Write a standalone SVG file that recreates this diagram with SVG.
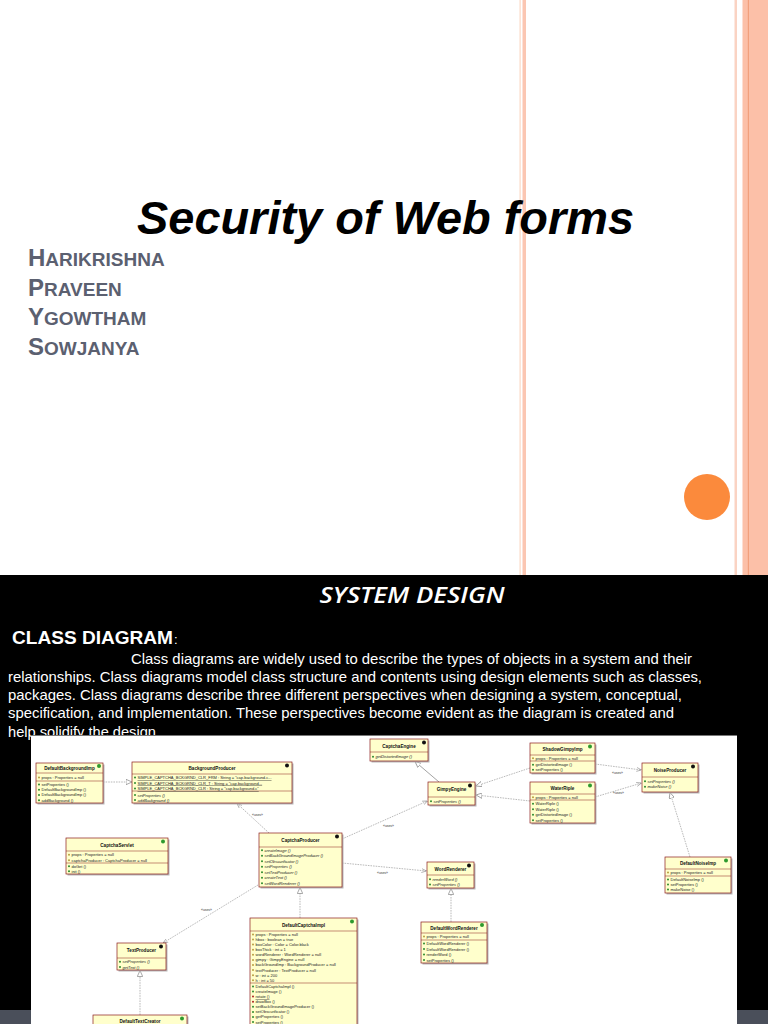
<svg xmlns="http://www.w3.org/2000/svg" width="768" height="1024" viewBox="0 0 768 1024">
<defs>
<style>
.name{font-family:"Liberation Sans",Arial,sans-serif;font-weight:bold;fill:#5B6070}
.big{font-size:24px}
.sm{font-size:19px}
.para{font-family:"Liberation Sans",Arial,sans-serif;font-size:14.5px;fill:#fff}
.b{fill:#FFFFCC;stroke:#8B1A1A;stroke-width:0.7}
.sh{fill:#B8B8B8}
.sep{stroke:#8B1A1A;stroke-width:0.5}
.h{font-family:"Liberation Sans",Arial,sans-serif;font-weight:bold;font-size:4.6px;fill:#111;text-anchor:middle}
.r{font-family:"Liberation Sans",Arial,sans-serif;font-size:4px;fill:#222}
.i{font-style:italic}
.u{text-decoration:underline}
.ib{fill:#111}
.ig{fill:#2E9A2E}
.m{fill:#2E8B2E}
.ma{fill:#B8A040}
.mr{fill:#B02020}
.cn{fill:none;stroke:#8C8C8C;stroke-width:0.6;stroke-dasharray:1.6 1}
.cs{fill:none;stroke:#8C8C8C;stroke-width:0.8}
.lb{font-family:"Liberation Sans",Arial,sans-serif;font-size:3.4px;fill:#333}
</style>
<marker id="tri" viewBox="0 0 10 10" refX="10" refY="5" markerWidth="6" markerHeight="6" markerUnits="userSpaceOnUse" orient="auto"><path d="M0,0.5 L10,5 L0,9.5 z" fill="#fff" stroke="#888" stroke-width="1.2"/></marker>
<marker id="arr" viewBox="0 0 10 10" refX="10" refY="5" markerWidth="5" markerHeight="5" markerUnits="userSpaceOnUse" orient="auto"><path d="M0,1 L10,5 L0,9" fill="none" stroke="#888" stroke-width="1.2"/></marker>
</defs>

<!-- top slide -->
<rect x="0" y="0" width="768" height="575" fill="#fff"/>
<rect x="519.5" y="0" width="1.2" height="575" fill="#FBD9C6"/>
<rect x="522.5" y="0" width="3.5" height="575" fill="#FBC6B2"/>
<rect x="734.5" y="0" width="2.5" height="575" fill="#FAD3C3"/>
<rect x="742.5" y="0" width="25.5" height="575" fill="#FCC0A8"/>
<rect x="747.8" y="0" width="1.2" height="575" fill="#F2A07C"/>
<circle cx="707" cy="497" r="23" fill="#FB8A3C"/>

<text x="137" y="234" font-family="Liberation Sans, Arial, sans-serif" font-weight="bold" font-style="italic" font-size="46" fill="#000" textLength="497" lengthAdjust="spacingAndGlyphs">Security of Web forms</text>
<text class="name" x="28" y="266"><tspan class="big">H</tspan><tspan class="sm">ARIKRISHNA</tspan></text>
<text class="name" x="28" y="296"><tspan class="big">P</tspan><tspan class="sm">RAVEEN</tspan></text>
<text class="name" x="28" y="325"><tspan class="big">Y</tspan><tspan class="sm">GOWTHAM</tspan></text>
<text class="name" x="28" y="355"><tspan class="big">S</tspan><tspan class="sm">OWJANYA</tspan></text>

<!-- bottom slide -->
<rect x="0" y="575" width="768" height="449" fill="#000"/>
<rect x="0" y="1010" width="768" height="14" fill="#4A4F5A"/>
<text x="412" y="603" font-family="Open Sans, Liberation Sans, sans-serif" font-style="italic" font-weight="600" font-size="21" fill="#fff" text-anchor="middle" textLength="185" lengthAdjust="spacingAndGlyphs">SYSTEM DESIGN</text>
<text x="12" y="644" font-family="Liberation Sans, Arial, sans-serif" font-weight="bold" font-size="19" fill="#fff" textLength="161" lengthAdjust="spacingAndGlyphs">CLASS DIAGRAM</text>
<text x="174" y="644" font-family="Liberation Sans, Arial, sans-serif" font-size="13" fill="#fff">:</text>
<text class="para" x="131" y="664" textLength="561" lengthAdjust="spacingAndGlyphs">Class diagrams are widely used to describe the types of objects in a system and their</text>
<text class="para" x="8" y="682" textLength="694" lengthAdjust="spacingAndGlyphs">relationships. Class diagrams model class structure and contents using design elements such as classes,</text>
<text class="para" x="8" y="700" textLength="674" lengthAdjust="spacingAndGlyphs">packages. Class diagrams describe three different perspectives when designing a system, conceptual,</text>
<text class="para" x="8" y="718" textLength="666" lengthAdjust="spacingAndGlyphs">specification, and implementation. These perspectives become evident as the diagram is created and</text>
<text class="para" x="8" y="737" textLength="152" lengthAdjust="spacingAndGlyphs">help solidify the design.</text>

<!-- diagram panel -->
<rect x="31" y="735" width="706" height="289" fill="#fff"/>
<line x1="31" y1="735.5" x2="737" y2="735.5" stroke="#777" stroke-width="1"/>

<g id="connectors">
<line class="cn" x1="103" y1="782" x2="132" y2="782" marker-end="url(#tri)"/>
<line class="cn" x1="269" y1="833" x2="237" y2="803.5" marker-end="url(#arr)"/>
<text class="lb" x="252" y="816">«uses»</text>
<line class="cs" x1="439" y1="782" x2="415" y2="761.5" marker-end="url(#tri)"/>
<line class="cn" x1="530" y1="768" x2="476" y2="786" marker-end="url(#tri)"/>
<line class="cn" x1="530" y1="801" x2="476" y2="795" marker-end="url(#tri)"/>
<line class="cn" x1="595" y1="764" x2="641.5" y2="770" marker-end="url(#arr)"/>
<text class="lb" x="612" y="774">«uses»</text>
<line class="cn" x1="595" y1="797" x2="641.5" y2="783" marker-end="url(#arr)"/>
<text class="lb" x="613" y="794">«uses»</text>
<line class="cn" x1="690" y1="857" x2="670" y2="792.5" marker-end="url(#tri)"/>
<line class="cn" x1="342" y1="839" x2="427.5" y2="801" marker-end="url(#arr)"/>
<text class="lb" x="383" y="827">«uses»</text>
<line class="cn" x1="342" y1="863" x2="426.5" y2="871" marker-end="url(#arr)"/>
<text class="lb" x="377" y="874">«uses»</text>
<line class="cn" x1="300" y1="918" x2="300" y2="887.5" marker-end="url(#tri)"/>
<line class="cn" x1="258" y1="885" x2="163" y2="943" marker-end="url(#arr)"/>
<text class="lb" x="201" y="911">«uses»</text>
<line class="cn" x1="140" y1="1015" x2="140" y2="970.5" marker-end="url(#tri)"/>
<line class="cn" x1="451" y1="922" x2="451" y2="888.5" marker-end="url(#tri)"/>
</g>

<g id="n-captchaengine">
<rect class="sh" x="371.5" y="740.5" width="58" height="22"/>
<rect class="b" x="370" y="739" width="58" height="22"/>
<line class="sep" x1="370" y1="752" x2="428" y2="752"/>
<text class="h" x="399" y="747.5">CaptchaEngine</text>
<circle class="ib" cx="424" cy="742.5" r="2"/>
<circle class="m" cx="373" cy="756.8" r="1"/><text class="r i" x="375.5" y="758.2">getDistortedImage ()</text>
</g>

<g id="n-defaultbackgroundimp">
<rect class="sh" x="37.5" y="764.5" width="67" height="40"/>
<rect class="b" x="36" y="763" width="67" height="40"/>
<line class="sep" x1="36" y1="773" x2="103" y2="773"/>
<line class="sep" x1="36" y1="781" x2="103" y2="781"/>
<text class="h" x="69.5" y="770.3">DefaultBackgroundImp</text>
<circle class="ig" cx="99" cy="766" r="2"/>
<circle class="ma" cx="39" cy="777.6" r="1"/><text class="r" x="41.5" y="779">props : Properties = null</text>
<circle class="m" cx="39" cy="784.6" r="1"/><text class="r" x="41.5" y="786">setProperties ()</text>
<circle class="m" cx="39" cy="789.8" r="1"/><text class="r" x="41.5" y="791.2">DefaultBackgroundImp ()</text>
<circle class="m" cx="39" cy="795" r="1"/><text class="r" x="41.5" y="796.4">DefaultBackgroundImp ()</text>
<circle class="m" cx="39" cy="800.2" r="1"/><text class="r" x="41.5" y="801.6">addBackground ()</text>
</g>

<g id="n-backgroundproducer">
<rect class="sh" x="133.5" y="763.5" width="160" height="41"/>
<rect class="b" x="132" y="762" width="160" height="41"/>
<line class="sep" x1="132" y1="774" x2="292" y2="774"/>
<line class="sep" x1="132" y1="791" x2="292" y2="791"/>
<text class="h" x="212" y="770">BackgroundProducer</text>
<circle class="ib" cx="287" cy="765.5" r="2"/>
<circle class="m" cx="135" cy="777.6" r="1"/><text class="r u" x="137.5" y="779">SIMPLE_CAPTCHA_BCKGRND_CLR_FRM : String = "cap.background.c...</text>
<circle class="m" cx="135" cy="783.1" r="1"/><text class="r u" x="137.5" y="784.5">SIMPLE_CAPTCHA_BCKGRND_CLR_T : String = "cap.background...</text>
<circle class="m" cx="135" cy="788.6" r="1"/><text class="r u" x="137.5" y="790">SIMPLE_CAPTCHA_BCKGRND_CLR : String = "cap.background.c"</text>
<circle class="m" cx="135" cy="795.1" r="1"/><text class="r i" x="137.5" y="796.5">setProperties ()</text>
<circle class="m" cx="135" cy="800.1" r="1"/><text class="r i" x="137.5" y="801.5">addBackground ()</text>
</g>

<g id="n-shadowgimpyimp">
<rect class="sh" x="531.5" y="744.5" width="65" height="30"/>
<rect class="b" x="530" y="743" width="65" height="30"/>
<line class="sep" x1="530" y1="755" x2="595" y2="755"/>
<line class="sep" x1="530" y1="761" x2="595" y2="761"/>
<text class="h" x="562.5" y="751">ShadowGimpyImp</text>
<circle class="ig" cx="590" cy="746.5" r="2"/>
<circle class="ma" cx="533" cy="758.3" r="1"/><text class="r" x="535.5" y="759.7">props : Properties = null</text>
<circle class="m" cx="533" cy="764.8" r="1"/><text class="r" x="535.5" y="766.2">getDistortedImage ()</text>
<circle class="m" cx="533" cy="769.8" r="1"/><text class="r" x="535.5" y="771.2">setProperties ()</text>
</g>

<g id="n-gimpyengine">
<rect class="sh" x="429.5" y="783.5" width="47" height="23"/>
<rect class="b" x="428" y="782" width="47" height="23"/>
<line class="sep" x1="428" y1="797" x2="475" y2="797"/>
<text class="h" x="451.5" y="791">GimpyEngine</text>
<circle class="ib" cx="470" cy="785.5" r="2"/>
<circle class="m" cx="431" cy="801.3" r="1"/><text class="r i" x="433.5" y="802.7">setProperties ()</text>
</g>

<g id="n-waterriple">
<rect class="sh" x="531.5" y="783.5" width="65" height="41"/>
<rect class="b" x="530" y="782" width="65" height="41"/>
<line class="sep" x1="530" y1="794" x2="595" y2="794"/>
<line class="sep" x1="530" y1="800" x2="595" y2="800"/>
<text class="h" x="562.5" y="790">WaterRiple</text>
<circle class="ig" cx="590" cy="785.5" r="2"/>
<circle class="ma" cx="533" cy="797.3" r="1"/><text class="r" x="535.5" y="798.7">props : Properties = null</text>
<circle class="m" cx="533" cy="803.8" r="1"/><text class="r" x="535.5" y="805.2">WaterRiple ()</text>
<circle class="m" cx="533" cy="809.3" r="1"/><text class="r" x="535.5" y="810.7">WaterRiple ()</text>
<circle class="m" cx="533" cy="814.8" r="1"/><text class="r" x="535.5" y="816.2">getDistortedImage ()</text>
<circle class="m" cx="533" cy="820.3" r="1"/><text class="r" x="535.5" y="821.7">setProperties ()</text>
</g>

<g id="n-noiseproducer">
<rect class="sh" x="643.5" y="764.5" width="56" height="29"/>
<rect class="b" x="642" y="763" width="56" height="29"/>
<line class="sep" x1="642" y1="777" x2="698" y2="777"/>
<text class="h" x="670" y="772">NoiseProducer</text>
<circle class="ib" cx="693" cy="766.5" r="2"/>
<circle class="m" cx="645" cy="781.3" r="1"/><text class="r i" x="647.5" y="782.7">setProperties ()</text>
<circle class="m" cx="645" cy="786.8" r="1"/><text class="r i" x="647.5" y="788.2">makeNoise ()</text>
</g>

<g id="n-captchaservlet">
<rect class="sh" x="67.5" y="839.5" width="102" height="36"/>
<rect class="b" x="66" y="838" width="102" height="36"/>
<line class="sep" x1="66" y1="851" x2="168" y2="851"/>
<line class="sep" x1="66" y1="863" x2="168" y2="863"/>
<text class="h" x="117" y="846.5">CaptchaServlet</text>
<circle class="ig" cx="163" cy="841.5" r="2"/>
<circle class="ma" cx="69" cy="854.8" r="1"/><text class="r" x="71.5" y="856.2">props : Properties = null</text>
<circle class="ma" cx="69" cy="860.3" r="1"/><text class="r" x="71.5" y="861.7">captchaProducer : CaptchaProducer = null</text>
<circle class="m" cx="69" cy="866.3" r="1"/><text class="r" x="71.5" y="867.7">doGet ()</text>
<circle class="m" cx="69" cy="871.3" r="1"/><text class="r" x="71.5" y="872.7">init ()</text>
</g>

<g id="n-captchaproducer">
<rect class="sh" x="260.5" y="834.5" width="83" height="54"/>
<rect class="b" x="259" y="833" width="83" height="54"/>
<line class="sep" x1="259" y1="847" x2="342" y2="847"/>
<text class="h" x="300.5" y="842">CaptchaProducer</text>
<circle class="ib" cx="337" cy="836.5" r="2"/>
<circle class="m" cx="262" cy="850.3" r="1"/><text class="r i" x="264.5" y="851.7">createImage ()</text>
<circle class="m" cx="262" cy="855.8" r="1"/><text class="r i" x="264.5" y="857.2">setBackGroundImageProducer ()</text>
<circle class="m" cx="262" cy="861.3" r="1"/><text class="r i" x="264.5" y="862.7">setObscurificator ()</text>
<circle class="m" cx="262" cy="866.8" r="1"/><text class="r i" x="264.5" y="868.2">setProperties ()</text>
<circle class="m" cx="262" cy="872.3" r="1"/><text class="r i" x="264.5" y="873.7">setTextProducer ()</text>
<circle class="m" cx="262" cy="877.8" r="1"/><text class="r i" x="264.5" y="879.2">createText ()</text>
<circle class="m" cx="262" cy="883.3" r="1"/><text class="r i" x="264.5" y="884.7">setWordRenderer ()</text>
</g>

<g id="n-wordrenderer">
<rect class="sh" x="428.5" y="863.5" width="47" height="26"/>
<rect class="b" x="427" y="862" width="47" height="26"/>
<line class="sep" x1="427" y1="875" x2="474" y2="875"/>
<text class="h" x="450.5" y="870.5">WordRenderer</text>
<circle class="ib" cx="469" cy="865.5" r="2"/>
<circle class="m" cx="430" cy="879.3" r="1"/><text class="r i" x="432.5" y="880.7">renderWord ()</text>
<circle class="m" cx="430" cy="884.6" r="1"/><text class="r i" x="432.5" y="886">setProperties ()</text>
</g>

<g id="n-defaultnoiseimp">
<rect class="sh" x="666.5" y="858.5" width="66" height="36"/>
<rect class="b" x="665" y="857" width="66" height="36"/>
<line class="sep" x1="665" y1="869" x2="731" y2="869"/>
<line class="sep" x1="665" y1="876" x2="731" y2="876"/>
<text class="h" x="698" y="865">DefaultNoiseImp</text>
<circle class="ig" cx="726" cy="860.5" r="2"/>
<circle class="ma" cx="668" cy="872.6" r="1"/><text class="r" x="670.5" y="874">props : Properties = null</text>
<circle class="m" cx="668" cy="879.6" r="1"/><text class="r" x="670.5" y="881">DefaultNoiseImp ()</text>
<circle class="m" cx="668" cy="884.6" r="1"/><text class="r" x="670.5" y="886">setProperties ()</text>
<circle class="m" cx="668" cy="889.6" r="1"/><text class="r" x="670.5" y="891">makeNoise ()</text>
</g>

<g id="n-textproducer">
<rect class="sh" x="118.5" y="944.5" width="49" height="27"/>
<rect class="b" x="117" y="943" width="49" height="27"/>
<line class="sep" x1="117" y1="958" x2="166" y2="958"/>
<text class="h" x="141.5" y="952">TextProducer</text>
<circle class="ib" cx="161" cy="946.5" r="2"/>
<circle class="m" cx="120" cy="961.8" r="1"/><text class="r i" x="122.5" y="963.2">setProperties ()</text>
<circle class="m" cx="120" cy="967.1" r="1"/><text class="r i" x="122.5" y="968.5">getText ()</text>
</g>

<g id="n-defaultcaptchaimpl">
<rect class="sh" x="251.5" y="919.5" width="107" height="110"/>
<rect class="b" x="250" y="918" width="107" height="110"/>
<line class="sep" x1="250" y1="931" x2="357" y2="931"/>
<line class="sep" x1="250" y1="983" x2="357" y2="983"/>
<text class="h" x="303.5" y="926.5">DefaultCaptchaImpl</text>
<circle class="ig" cx="352" cy="921.5" r="2"/>
<circle class="ma" cx="253" cy="934.4" r="1"/><text class="r" x="255.5" y="935.8">props : Properties = null</text>
<circle class="ma" cx="253" cy="939.5" r="1"/><text class="r" x="255.5" y="940.9">hbox : boolean = true</text>
<circle class="ma" cx="253" cy="944.6" r="1"/><text class="r" x="255.5" y="946">boxColor : Color = Color.black</text>
<circle class="ma" cx="253" cy="949.7" r="1"/><text class="r" x="255.5" y="951.1">boxThick : int = 1</text>
<circle class="ma" cx="253" cy="954.8" r="1"/><text class="r" x="255.5" y="956.2">wordRenderer : WordRenderer = null</text>
<circle class="ma" cx="253" cy="959.9" r="1"/><text class="r" x="255.5" y="961.3">gimpy : GimpyEngine = null</text>
<circle class="ma" cx="253" cy="965" r="1"/><text class="r" x="255.5" y="966.4">backGroundImp : BackgroundProducer = null</text>
<circle class="ma" cx="253" cy="970.1" r="1"/><text class="r" x="255.5" y="971.5">textProducer : TextProducer = null</text>
<circle class="ma" cx="253" cy="975.2" r="1"/><text class="r" x="255.5" y="976.6">w : int = 200</text>
<circle class="ma" cx="253" cy="980.3" r="1"/><text class="r" x="255.5" y="981.7">h : int = 50</text>
<circle class="m" cx="253" cy="986.4" r="1"/><text class="r" x="255.5" y="987.8">DefaultCaptchaImpl ()</text>
<circle class="m" cx="253" cy="991.5" r="1"/><text class="r" x="255.5" y="992.9">createImage ()</text>
<circle class="mr" cx="253" cy="996.6" r="1"/><text class="r u" x="255.5" y="998">rotate ()</text>
<circle class="mr" cx="253" cy="1001.7" r="1"/><text class="r" x="255.5" y="1003.1">drawBox ()</text>
<circle class="m" cx="253" cy="1006.8" r="1"/><text class="r" x="255.5" y="1008.2">setBackGroundImageProducer ()</text>
<circle class="m" cx="253" cy="1011.9" r="1"/><text class="r" x="255.5" y="1013.3">setObscurificator ()</text>
<circle class="m" cx="253" cy="1017" r="1"/><text class="r" x="255.5" y="1018.4">getProperties ()</text>
<circle class="m" cx="253" cy="1022.1" r="1"/><text class="r" x="255.5" y="1023.5">setProperties ()</text>
</g>

<g id="n-defaultwordrenderer">
<rect class="sh" x="422.5" y="923.5" width="66" height="41"/>
<rect class="b" x="421" y="922" width="66" height="41"/>
<line class="sep" x1="421" y1="933" x2="487" y2="933"/>
<line class="sep" x1="421" y1="940" x2="487" y2="940"/>
<text class="h" x="454" y="930">DefaultWordRenderer</text>
<circle class="ig" cx="482" cy="925" r="2"/>
<circle class="ma" cx="424" cy="936.6" r="1"/><text class="r" x="426.5" y="938">props : Properties = null</text>
<circle class="m" cx="424" cy="943.6" r="1"/><text class="r" x="426.5" y="945">DefaultWordRenderer ()</text>
<circle class="m" cx="424" cy="949.1" r="1"/><text class="r" x="426.5" y="950.5">DefaultWordRenderer ()</text>
<circle class="m" cx="424" cy="954.6" r="1"/><text class="r" x="426.5" y="956">renderWord ()</text>
<circle class="m" cx="424" cy="960.1" r="1"/><text class="r" x="426.5" y="961.5">setProperties ()</text>
</g>

<g id="n-defaulttextcreator">
<rect class="sh" x="94.5" y="1016.5" width="94" height="20"/>
<rect class="b" x="93" y="1015" width="94" height="20"/>
<text class="h" x="140" y="1022.5">DefaultTextCreator</text>
<circle class="ig" cx="182" cy="1018.5" r="2"/>
</g>
</svg>
